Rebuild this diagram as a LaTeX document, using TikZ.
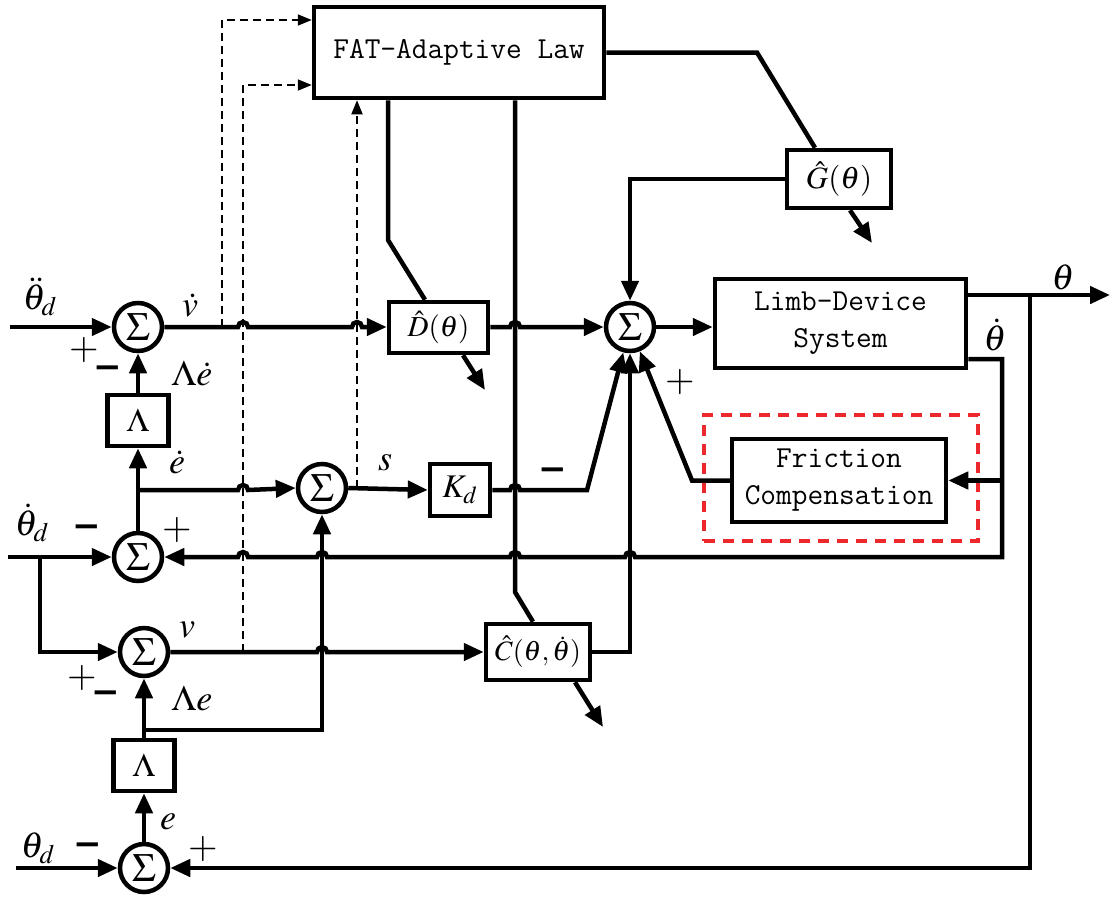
\documentclass[tikz,border=0pt]{standalone}
\usepackage{mathptmx}
\usepackage{graphicx}
\usepackage[no-math]{fontspec}
\setmainfont{Liberation Serif}
\newfontfamily\dv{DejaVu Sans}
\usetikzlibrary{arrows.meta,calc}
\definecolor{redd}{RGB}{236,40,44}
\newcommand\hopR[2]{-- ({#1-5},#2) arc[start angle=180,end angle=0,radius=5pt]}
\newcommand\hopL[2]{-- ({#1+5},#2) arc[start angle=0,end angle=180,radius=5pt]}
\newcommand\mysc[2]{\scalebox{#1}{\fontsize{20}{20}\selectfont$#2$}}
\begin{document}
\begin{tikzpicture}[x=1pt,y=-1pt,
 conn/.style={line width=4.5pt},
 arr/.style={conn,-{Triangle[length=20pt,width=17pt]}},
 dsh/.style={line width=1.8pt,dash pattern=on 8pt off 5pt},
 darr/.style={dsh,-{Triangle[length=14pt,width=11pt]}},
 sumn/.style={draw,circle,line width=4.5pt,minimum size=48pt,inner sep=0pt},
 txt/.style={inner sep=0pt},
 blk/.style={draw,line width=4.5pt,inner sep=0pt},
 mono/.style={blk,font=\fontsize{30.5}{37}\selectfont\ttfamily,align=center},
 mns/.style={inner sep=0pt,font=\fontsize{34}{34}\selectfont\dv\bfseries}]
\useasboundingbox (0,0) rectangle (1115,900);

% blocks
\node[mono, minimum width=290pt, minimum height=91pt] (fat) at (459,52.5) {FAT-Adaptive Law};
\node[mono, minimum width=251pt, minimum height=89pt] (limb) at (840.5,323.5) {Limb-Device\\System};
\node[mono, minimum width=214pt, minimum height=83pt] (fric) at (839,480.5) {Friction\\Compensation};
\node[draw=redd, line width=4.5pt, dash pattern=on 11pt off 8pt, minimum width=274pt, minimum height=126pt, inner sep=0pt] (red) at (841,478) {};
\node[blk, minimum width=104pt, minimum height=58pt] (ghat) at (839,179) {\mysc{1.55}{\hat{G}(\theta)}};
\node[blk, minimum width=99pt, minimum height=51pt] (dhat) at (438.5,327.5) {\mysc{1.45}{\hat{D}(\theta)}};
\node[blk, minimum width=60pt, minimum height=52pt] (kd) at (460,490) {\mysc{1.65}{K_d}};
\node[blk, minimum width=104pt, minimum height=56pt] (chat) at (538,652) {\mysc{1.4}{\hat{C}(\theta,\dot{\theta})}};
\node[blk, minimum width=61pt, minimum height=51pt] (lam1) at (138,420.5) {\mysc{1.65}{\Lambda}};
\node[blk, minimum width=61pt, minimum height=51pt] (lam2) at (144,765.5) {\mysc{1.65}{\Lambda}};

% sums
\foreach \s/\p in {main/{630,327},s1/{138,327},s2/{322,488},s3/{138,557},s4/{144,652},s5/{144,868}}{
  \node[sumn] (\s) at (\p) {\mysc{2.0}{\Sigma}};}

% coordinates
\coordinate (in1) at (10,327);
\coordinate (in2) at (8,557);
\coordinate (in3) at (16,868);
\coordinate (out) at (1110,295);
\coordinate (fb) at (1030,295);
\coordinate (td) at (1002,359);
\coordinate (tdb) at (1002,557);
\coordinate (br1) at (40,557);
\coordinate (br2) at (144,730);
\coordinate (br3) at (138,490);

% dashed lines (beneath)
\draw[darr] (222,327) -- (222,20) -- ($(fat.west)+(0,-32.5)$);
\draw[darr] (243,652) -- (243,85) -- ($(fat.west)+(0,32.5)$);
\draw[darr] (357,488) -- ($(fat.south)+(-102,0)$);

% vertical lines
\draw[conn] ($(fat.south)+(-71,0)$) -- (388,240) -- ($(dhat.north)+(-13.5,0)$);
\draw[conn] ($(fat.south)+(56,0)$) -- (515,592) -- ($(chat.north)+(-5,0)$);
\draw[arr] (chat.east) -| (main.south);
\draw[arr] (br2) -| (s2.south);
\draw[conn] (fat.east) -- (757,52.5) -- ($(ghat.north)+(-24,0)$);
\draw[arr] (ghat.west) -| (main.north);
\draw[arr] ($(ghat.south)+(11,0)$) -- (872,243);
\draw[arr] ($(dhat.south)+(24.5,0)$) -- (485,390);
\draw[arr] ($(chat.south)+(37,0)$) -- (603,727);

% horizontal lines with hops
\draw[arr] (in1) -- (s1);
\draw[arr] (s1.east) \hopR{243}{327} \hopR{357}{327} -- (dhat.west |- s1);
\draw[arr] (dhat.east |- main) \hopR{515}{327} -- (main.west);
\draw[arr] (main.east) -- (main.east -| limb.west);
\draw[arr] (limb.east |- out) -- (out);
\draw[arr] (fb) |- (s5.east);
\draw[arr] (limb.east |- td) -- (td) -- (tdb) \hopL{630}{557} \hopL{515}{557} \hopL{322}{557} \hopL{243}{557} -- (s3.east);
\draw[arr] (td |- fric) -- (fric.east);
\draw[arr] (fric.west) -- (692,480.5) -- (main);
\draw[arr] (s2.east) -- (kd.west);
\draw[arr] (kd.east) \hopR{515}{490} -- (587,490) -- (main);
\draw[arr] (in2) -- (s3.west);
\draw[arr] (s3.north) -- (lam1.south);
\draw[arr] (lam1.north) -- (s1.south);
\draw[arr] (br3) \hopR{243}{490} -- (s2.west);
\draw[arr] (br1) |- (s4.west);
\draw[arr] (s4.east) \hopR{322}{652} -- (chat.west);
\draw[arr] (s5.north) -- (lam2.south);
\draw[arr] (lam2.north) -- (s4.south);
\draw[conn] (br2) -- (lam2.north);
\draw[arr] (in3) -- (s5.west);

% labels
\node[txt] (l1) at (40,297) {\mysc{1.8}{\ddot{\theta}_d}};
\node[txt] (p1) at (84,350) {\mysc{1.9}{+}};
\node[mns] (m1) at (108,372) {−};
\node[txt] (l2) at (192,373) {\mysc{1.8}{\Lambda\dot{e}}};
\node[txt] (l3) at (190,305) {\mysc{1.8}{\dot{v}}};
\node[txt] (l4) at (177,462) {\mysc{1.8}{\dot{e}}};
\node[txt] (l5) at (32,523) {\mysc{1.8}{\dot{\theta}_d}};
\node[mns] (m2) at (87,531) {−};
\node[txt] (p2) at (177,530) {\mysc{1.9}{+}};
\node[txt] (l6) at (385,463) {\mysc{1.8}{s}};
\node[mns] (m3) at (553,474) {−};
\node[txt] (p3) at (680,382) {\mysc{1.9}{+}};
\node[txt] (l7) at (187,630) {\mysc{1.8}{v}};
\node[txt] (p4) at (82,678) {\mysc{1.9}{+}};
\node[mns] (m4) at (106,697) {−};
\node[txt] (l8) at (192,698) {\mysc{1.8}{\Lambda e}};
\node[txt] (l9) at (168,822) {\mysc{1.8}{e}};
\node[txt] (l10) at (38,848) {\mysc{1.8}{\theta_d}};
\node[mns] (m5) at (88,849) {−};
\node[txt] (p5) at (203,849) {\mysc{1.9}{+}};
\node[txt] (l11) at (1063,277) {\mysc{1.8}{\theta}};
\node[txt] (l12) at (995,335) {\mysc{1.8}{\dot{\theta}}};
\end{tikzpicture}
\end{document}
